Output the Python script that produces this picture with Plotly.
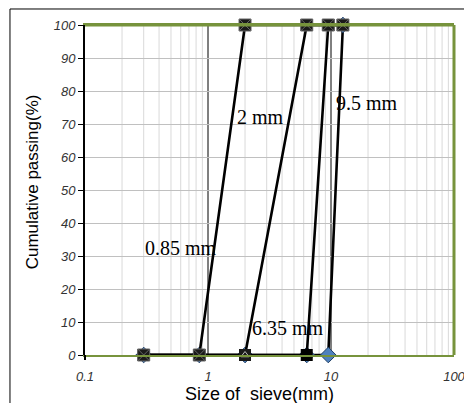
import math
import plotly.graph_objects as go

# Data
sieve_sizes = [0.3, 0.85, 2, 6.35, 9.5, 12.5]
pass_085 = [0, 0, 100, 100, 100, 100]
pass_2 = [0, 0, 0, 100, 100, 100]
pass_635 = [0, 0, 0, 0, 100, 100]
pass_95 = [0, 0, 0, 0, 0, 100]

labels = ["0.85 mm", "2 mm", "6.35 mm", "9.5 mm"]
label_x = [0.295, 1.66, 2.19, 10.6]
label_y = [32.4, 72, 8.2, 76.4]

y_ticks = [0, 10, 20, 30, 40, 50, 60, 70, 80, 90, 100]
x_ticks = [0.1, 1, 10, 100]
x_tick_text = ["0.1", "1", "10", "100"]
minor_x = [m * d for d in (0.1, 1, 10) for m in range(2, 10)]

GREEN = "#77933C"
DARK = "#1a1a1a"

fig = go.Figure()

line = dict(color="black", width=2.6)

fig.add_trace(go.Scatter(x=sieve_sizes, y=pass_95, mode="lines+markers", line=line,
                         marker=dict(symbol="diamond", size=12, color="#4F81BD",
                                     line=dict(color="#1F3F66", width=1)),
                         cliponaxis=False, showlegend=False))
fig.add_trace(go.Scatter(x=sieve_sizes, y=pass_635, mode="lines+markers", line=line,
                         marker=dict(symbol="square", size=12, color="black"),
                         cliponaxis=False, showlegend=False))
fig.add_trace(go.Scatter(x=sieve_sizes, y=pass_2, mode="lines+markers", line=line,
                         marker=dict(symbol="square", size=12, color=DARK),
                         cliponaxis=False, showlegend=False))
fig.add_trace(go.Scatter(x=sieve_sizes, y=pass_2, mode="markers",
                         marker=dict(symbol="triangle-up-open", size=7, color="#bbbbbb",
                                     line=dict(width=1, color="#bbbbbb")),
                         cliponaxis=False, showlegend=False))
fig.add_trace(go.Scatter(x=sieve_sizes, y=pass_085, mode="lines+markers", line=line,
                         marker=dict(symbol="square-x", size=12, color=DARK,
                                     line=dict(color="#666666", width=1)),
                         cliponaxis=False, showlegend=False))

shapes = []
for v in minor_x:
    shapes.append(dict(type="line", xref="x", yref="paper", x0=v, x1=v, y0=0, y1=1,
                       line=dict(color="#d9d9d9", width=1), layer="below"))
for v in [1, 10]:
    shapes.append(dict(type="line", xref="x", yref="paper", x0=v, x1=v, y0=0, y1=1,
                       line=dict(color="black", width=1), layer="below"))
shapes.append(dict(type="rect", xref="paper", yref="paper", x0=-0.2033, x1=1.2,
                   y0=-0.4, y1=1.0485, line=dict(color="black", width=1),
                   fillcolor="rgba(0,0,0,0)"))
shapes.append(dict(type="line", xref="paper", yref="paper", x0=0, x1=0, y0=-0.015, y1=0,
                   line=dict(color="black", width=2)))

annotations = []
for t, xv, yv in zip(labels, label_x, label_y):
    annotations.append(dict(x=math.log10(xv), y=yv, xref="x", yref="y",
                            text=t, showarrow=False, xanchor="left", yanchor="middle",
                            font=dict(family="Liberation Serif", size=20, color="black")))
annotations.append(dict(x=0.473, y=-0.118, xref="paper", yref="paper",
                        text="Size of  sieve(mm)", showarrow=False,
                        xanchor="center", yanchor="middle",
                        font=dict(family="Liberation Sans", size=18, color="black")))
annotations.append(dict(x=-0.142, y=0.525, xref="paper", yref="paper",
                        text="Cumulative passing(%)", showarrow=False, textangle=-90,
                        xanchor="center", yanchor="middle",
                        font=dict(family="Liberation Sans", size=17, color="black")))

fig.update_layout(
    width=464, height=403,
    margin=dict(l=85, r=10, t=25, b=48, autoexpand=False),
    paper_bgcolor="white", plot_bgcolor="white",
    shapes=shapes, annotations=annotations,
    xaxis=dict(type="log", range=[-1, 2], tickvals=x_ticks, ticktext=x_tick_text,
               showgrid=False, zeroline=False, showline=True, linecolor=GREEN,
               linewidth=2, mirror=True, ticks="", automargin=False,
               ticklabeloverflow="allow", ticklabelstandoff=8,
               tickfont=dict(family="Liberation Sans", size=13, color="#333333",
                             style="italic")),
    yaxis=dict(range=[0, 100], tickvals=y_ticks, showgrid=True, gridcolor="#c0c0c0",
               gridwidth=1, zeroline=False, showline=True, linecolor="black",
               linewidth=2, ticks="outside", ticklen=5, tickcolor="black",
               automargin=False,
               tickfont=dict(family="Liberation Sans", size=13, color="#333333",
                             style="italic")),
)
fig.add_shape(type="line", xref="paper", yref="paper", x0=0, x1=1, y0=1, y1=1,
              line=dict(color=GREEN, width=3))
fig.add_shape(type="line", xref="paper", yref="paper", x0=1, x1=1, y0=0, y1=1,
              line=dict(color=GREEN, width=3))

fig.write_html("out.html", config={"displayModeBar": False},
               post_script="document.body.style.margin='0';document.body.style.overflow='hidden';")
